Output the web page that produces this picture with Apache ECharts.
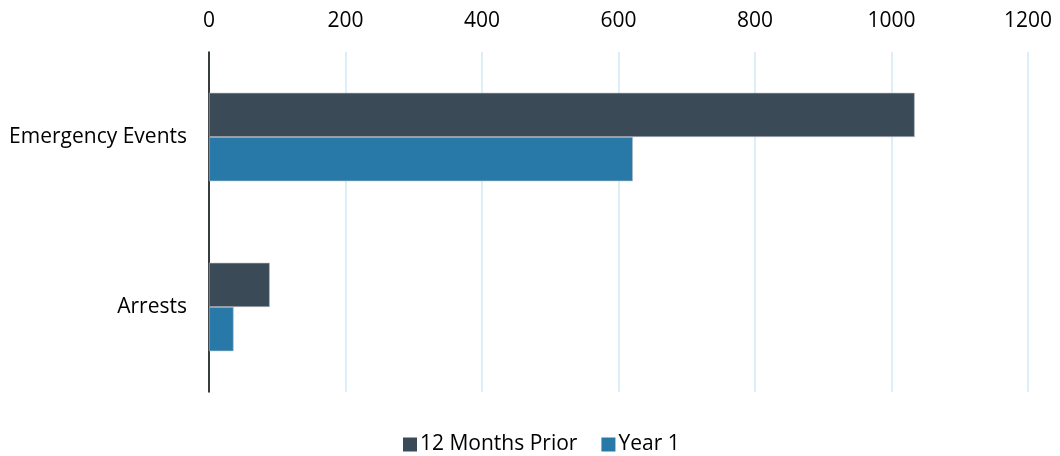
<!DOCTYPE html>
<html>
<head>
<meta charset="utf-8">
<script src="https://cdn.jsdelivr.net/npm/echarts@6/dist/echarts.min.js"></script>
<style>
  html, body { margin: 0; padding: 0; background: #fff; }
  #chart { width: 1060px; height: 456px; }
</style>
</head>
<body>
<div id="chart"></div>
<script>
// Categories and series values
const categories = ['Emergency Events', 'Arrests'];
const seriesNames = ['12 Months Prior', 'Year 1'];
const priorValues = [1034, 89];
const year1Values = [621, 36];
const axisTicks = [0, 200, 400, 600, 800, 1000, 1200];

const FONT = '"Open Sans", "Noto Sans", sans-serif';
const colors = ['#3b4a57', '#2878a8'];

const chart = echarts.init(document.getElementById('chart'), null, { renderer: 'canvas' });

chart.setOption({
  animation: false,
  backgroundColor: '#ffffff',
  textStyle: { fontFamily: FONT },
  grid: { left: 209, right: 32, top: 52, bottom: 64, containLabel: false },
  legend: {
    data: seriesNames,
    bottom: -4,
    left: 398,
    itemWidth: 14,
    itemHeight: 14,
    itemGap: 24,
    icon: 'rect',
    itemStyle: { borderWidth: 0 },
    textStyle: { fontFamily: FONT, fontSize: 21, color: '#000', padding: [0, 0, 0, -2] }
  },
  xAxis: {
    type: 'value',
    position: 'top',
    min: axisTicks[0],
    max: axisTicks[axisTicks.length - 1],
    interval: axisTicks[1] - axisTicks[0],
    axisLine: { show: false },
    axisTick: { show: false },
    axisLabel: {
      fontFamily: FONT, fontSize: 21, color: '#000', margin: 20,
      formatter: v => String(v)
    },
    splitLine: { show: true, lineStyle: { color: '#d0e8f6', width: 1.5 } }
  },
  yAxis: {
    type: 'category',
    data: categories,
    inverse: true,
    axisLine: { show: true, lineStyle: { color: '#000', width: 1.5 } },
    axisTick: { show: false },
    axisLabel: { fontFamily: FONT, fontSize: 21, color: '#000', margin: 22 },
    splitLine: { show: false }
  },
  series: [
    {
      name: seriesNames[0],
      type: 'bar',
      data: priorValues,
      barCategoryGap: '48%',
      barGap: '0%',
      itemStyle: { color: colors[0], borderColor: '#b8bcc0', borderWidth: 0.6 }
    },
    {
      name: seriesNames[1],
      type: 'bar',
      data: year1Values,
      barCategoryGap: '48%',
      barGap: '0%',
      itemStyle: { color: colors[1], borderColor: '#b8bcc0', borderWidth: 0.6 }
    }
  ]
});
</script>
</body>
</html>
